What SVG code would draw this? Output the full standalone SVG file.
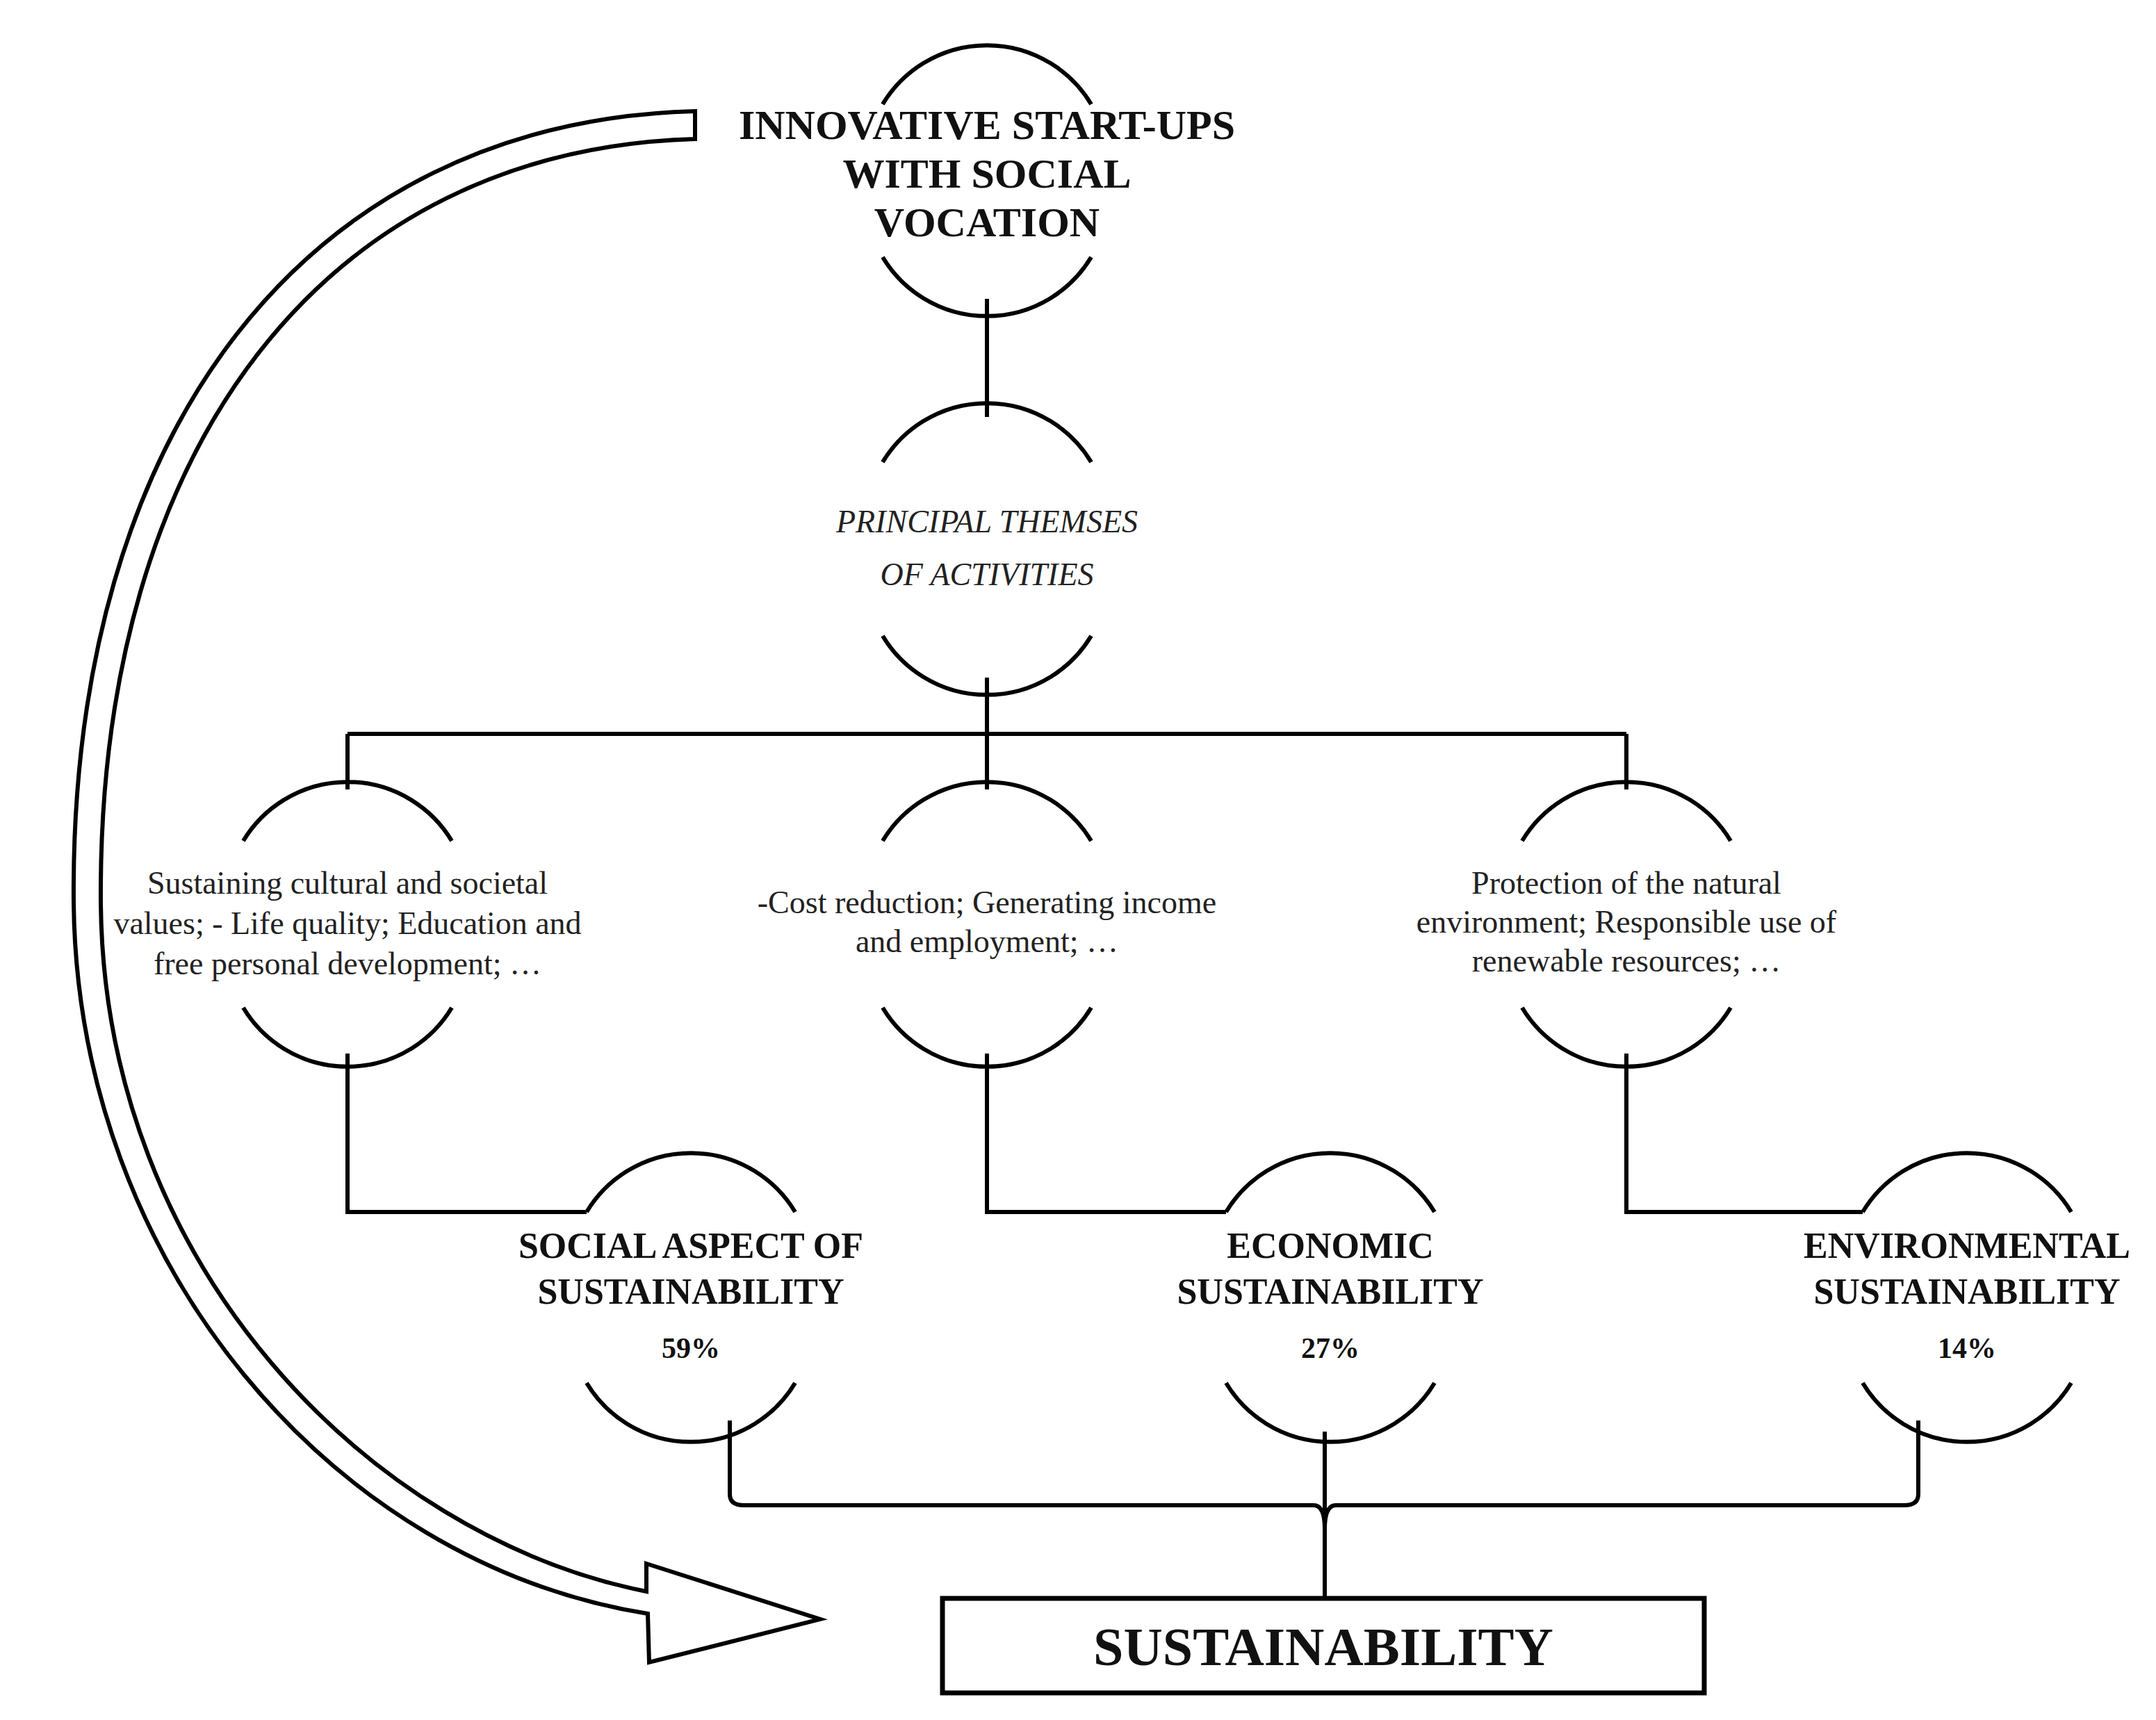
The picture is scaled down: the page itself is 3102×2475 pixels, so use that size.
<svg xmlns="http://www.w3.org/2000/svg" width="3102" height="2475" viewBox="0 0 3102 2475">
<style>
.arc{fill:none;stroke:#000;stroke-width:6}
.ln{fill:none;stroke:#000;stroke-width:6}
.b{font-family:"Liberation Serif",serif;font-weight:bold;text-anchor:middle;fill:#111}
.r{font-family:"Liberation Serif",serif;text-anchor:middle;fill:#222;font-size:46px}
</style>
<rect width="3102" height="2475" fill="#fff"/>
<g id="connectors">
<path class="ln" d="M1420,430 V600"/>
<path class="ln" d="M1420,975 V1056 M500,1056 H2340 M500,1056 V1136 M1420,1056 V1136 M2340,1056 V1136"/>
<path class="ln" d="M500,1516 V1744 H844 M1420,1516 V1744 H1764 M2340,1516 V1744 H2680"/>
<path class="ln" d="M1050,2044 V2150 Q1050,2166 1070,2166 H1890 Q1906,2166 1906,2200 V2300 M2760,2044 V2150 Q2760,2166 2740,2166 H1922 Q1906,2166 1906,2200 M1906,2060 V2300"/>
<path d="M1000,160 C440,175 100,620 106,1300 C112,1820 480,2250 932,2322 L934,2392 L1180,2330 L930,2250 L930,2290 C530,2210 150,1820 145,1300 C140,640 470,215 1000,200 Z" fill="#fff" stroke="#000" stroke-width="6" stroke-linejoin="miter"/>
</g>
<g id="n-startups">
<path class="arc" d="M1270,150 A175,175 0 0 1 1570,150"/>
<path class="arc" d="M1270,370 A175,175 0 0 0 1570,370"/>
<text class="b" font-size="60" x="1420" y="200">INNOVATIVE START-UPS</text>
<text class="b" font-size="60" x="1420" y="270">WITH SOCIAL</text>
<text class="b" font-size="60" x="1420" y="340">VOCATION</text>
</g>
<g id="n-themes">
<path class="arc" d="M1270,665 A175,175 0 0 1 1570,665"/>
<path class="arc" d="M1270,915 A175,175 0 0 0 1570,915"/>
<text class="r" font-style="italic" font-size="50" x="1420" y="766">PRINCIPAL THEMSES</text>
<text class="r" font-style="italic" font-size="50" x="1420" y="842">OF ACTIVITIES</text>
</g>
<g id="n-social-themes">
<path class="arc" d="M350,1210 A175,175 0 0 1 650,1210"/>
<path class="arc" d="M350,1450 A175,175 0 0 0 650,1450"/>
<text class="r" x="500" y="1286">Sustaining cultural and societal</text>
<text class="r" x="500" y="1344">values; - Life quality; Education and</text>
<text class="r" x="500" y="1402">free personal development; …</text>
</g>
<g id="n-econ-themes">
<path class="arc" d="M1270,1210 A175,175 0 0 1 1570,1210"/>
<path class="arc" d="M1270,1450 A175,175 0 0 0 1570,1450"/>
<text class="r" x="1420" y="1314">-Cost reduction;  Generating income</text>
<text class="r" x="1420" y="1370">and employment; …</text>
</g>
<g id="n-env-themes">
<path class="arc" d="M2190,1210 A175,175 0 0 1 2490,1210"/>
<path class="arc" d="M2190,1450 A175,175 0 0 0 2490,1450"/>
<text class="r" x="2340" y="1286">Protection of the natural</text>
<text class="r" x="2340" y="1342">environment; Responsible use of</text>
<text class="r" x="2340" y="1398">renewable resources; …</text>
</g>
<g id="n-social">
<path class="arc" d="M844,1744 A175,175 0 0 1 1144,1744"/>
<path class="arc" d="M844,1990 A175,175 0 0 0 1144,1990"/>
<text class="b" font-size="52" x="994" y="1810">SOCIAL ASPECT OF</text>
<text class="b" font-size="52" x="994" y="1876">SUSTAINABILITY</text>
<text class="b" font-size="42" x="994" y="1954">59%</text>
</g>
<g id="n-economic">
<path class="arc" d="M1764,1744 A175,175 0 0 1 2064,1744"/>
<path class="arc" d="M1764,1990 A175,175 0 0 0 2064,1990"/>
<text class="b" font-size="52" x="1914" y="1810">ECONOMIC</text>
<text class="b" font-size="52" x="1914" y="1876">SUSTAINABILITY</text>
<text class="b" font-size="42" x="1914" y="1954">27%</text>
</g>
<g id="n-environmental">
<path class="arc" d="M2680,1744 A175,175 0 0 1 2980,1744"/>
<path class="arc" d="M2680,1990 A175,175 0 0 0 2980,1990"/>
<text class="b" font-size="52" x="2830" y="1810">ENVIRONMENTAL</text>
<text class="b" font-size="52" x="2830" y="1876">SUSTAINABILITY</text>
<text class="b" font-size="42" x="2830" y="1954">14%</text>
</g>
<g id="n-sustainability">
<rect x="1356" y="2300" width="1096" height="136" fill="#fff" stroke="#000" stroke-width="7"/>
<text class="b" font-size="78" x="1904" y="2396">SUSTAINABILITY</text>
</g>
</svg>
